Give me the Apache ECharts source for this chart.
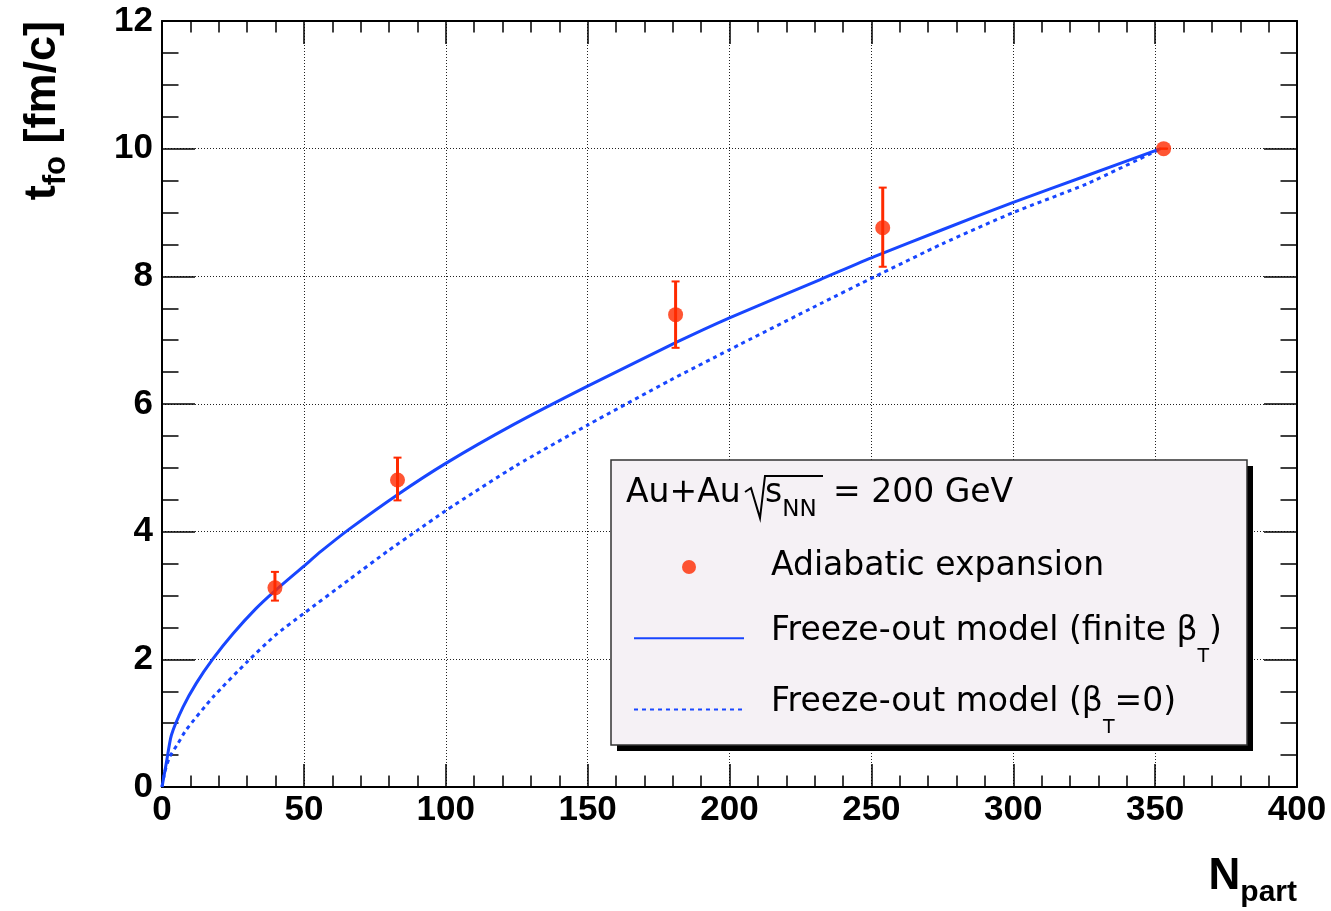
<!DOCTYPE html>
<html>
<head>
<meta charset="utf-8">
<script src="https://cdn.jsdelivr.net/npm/echarts@6/dist/echarts.min.js"></script>
<style>
html,body{margin:0;padding:0;background:#fff;}
#chart{width:1331px;height:911px;}
</style>
</head>
<body>
<div id="chart"></div>
<script>
// ---- data ----
const xTicks = [0, 50, 100, 150, 200, 250, 300, 350, 400];
const yTicks = [0, 2, 4, 6, 8, 10, 12];

// Freeze-out model (finite beta_T) — solid curve
const solidX = [0, 1.5, 3.3, 7.4, 12, 18, 25, 33, 40, 50, 56, 66, 83, 100, 124, 150, 181, 200, 232, 251, 275, 300, 326, 352];
const solidY = [0, 0.37, 0.81, 1.25, 1.62, 2.01, 2.40, 2.79, 3.08, 3.46, 3.69, 4.04, 4.58, 5.07, 5.68, 6.28, 6.96, 7.35, 7.95, 8.31, 8.73, 9.16, 9.58, 10.0];

// Freeze-out model (beta_T = 0) — dotted curve
const dotX = [0, 1, 2.7, 5.6, 8.6, 18, 30, 40, 50, 66, 80, 90, 100, 125, 150, 179, 200, 232, 251, 275, 300, 326, 352];
const dotY = [0, 0.24, 0.47, 0.68, 0.90, 1.41, 1.96, 2.38, 2.72, 3.25, 3.71, 4.02, 4.33, 5.04, 5.67, 6.37, 6.85, 7.57, 7.99, 8.51, 9.00, 9.45, 10.0];

// Adiabatic expansion — points with error bars
const ptsX = [39.8, 83, 181, 254, 353];
const ptsY = [3.12, 4.81, 7.40, 8.76, 10.0];
const errLow = [2.92, 4.49, 6.88, 8.15, 10.0];
const errHigh = [3.37, 5.16, 7.92, 9.39, 10.0];

const NAME_PTS = 'Adiabatic expansion';
const NAME_SOLID = 'Freeze-out model (finite βT)';
const NAME_DOT = 'Freeze-out model (βT=0)';

// ---- styling ----
const BLUE = '#1846ff';
const RED = '#ff2a00';
const LAB = 'Liberation Sans';
const LEG = 'DejaVu Sans';

const chart = echarts.init(document.getElementById('chart'), null, {renderer: 'canvas'});

function axisLineStyle() {
  return {show: true, onZero: false, lineStyle: {color: '#000', width: 2}};
}
function tickStyle(len) {
  return {show: true, inside: true, length: len, lineStyle: {color: '#000', width: 1.5}};
}
function minorStyle(n, len) {
  return {show: true, splitNumber: n, length: len, lineStyle: {color: '#000', width: 1.5}};
}

const legendRich = {
  p: {fontFamily: LEG, fontSize: 33, width: 22, height: 40, lineHeight: 56, verticalAlign: 'top', color: '#000'},
  c: {fontFamily: LEG, fontSize: 33, height: 54, lineHeight: 56, verticalAlign: 'top', color: '#000'},
  b: {fontFamily: LEG, fontSize: 33, height: 43, lineHeight: 56, verticalAlign: 'top', color: '#000'},
  s: {fontFamily: LEG, fontSize: 19, height: 18, lineHeight: 56, verticalAlign: 'bottom', color: '#000'}
};

const option = {
  animation: false,
  backgroundColor: '#fff',
  grid: {left: 162, top: 21, width: 1135, height: 766, containLabel: false, outerBoundsMode: 'none'},
  title: {
    left: 626, top: 473, padding: 0, z: 8,
    text: '{n|Au+Au}{g| }{n|s}{sub|NN}{n| = 200 GeV}',
    textStyle: {
      rich: {
        n: {fontFamily: LEG, fontWeight: 'normal', fontSize: 33, color: '#000', height: 40, lineHeight: 46, verticalAlign: 'top'},
        g: {fontFamily: LEG, fontWeight: 'normal', fontSize: 33, color: '#000', width: 24.4, height: 40, lineHeight: 46, verticalAlign: 'top'},
        sub: {fontFamily: LEG, fontWeight: 'normal', fontSize: 23, color: '#000', height: 18, lineHeight: 46, verticalAlign: 'bottom', padding: [0, 6, 0, 0]}
      }
    }
  },
  legend: {
    orient: 'vertical', left: 633, top: 539, padding: 0, z: 7,
    itemWidth: 110, itemHeight: 14, itemGap: 14.7,
    selectedMode: false,
    data: [
      {name: NAME_PTS, icon: 'circle'},
      {name: NAME_SOLID, itemStyle: {opacity: 0}},
      {name: NAME_DOT, itemStyle: {opacity: 0}}
    ],
    formatter: function (name) {
      if (name === NAME_PTS) return '{p| }{c|Adiabatic expansion}{s| }';
      if (name === NAME_SOLID) return '{p| }{b|Freeze-out model (finite β}{s|T}{b|)}';
      return '{p| }{b|Freeze-out model (β}{s|T}{b|=0)}';
    },
    textStyle: {color: '#000', fontFamily: LEG, fontSize: 33, rich: legendRich}
  },
  graphic: [
    {type: 'rect', z: 4, shape: {x: 617, y: 466, width: 636, height: 285}, style: {fill: '#000'}},
    {type: 'rect', z: 5, shape: {x: 611, y: 460, width: 636, height: 285}, style: {fill: '#f5f1f5', stroke: '#333', lineWidth: 1.5}},
    {type: 'polyline', z: 9, shape: {points: [[745, 492], [751, 488], [760, 518], [765, 476], [823, 476]]}, style: {stroke: '#000', lineWidth: 2, fill: null}}
  ],
  xAxis: [
    {
      type: 'value', position: 'bottom',
      min: xTicks[0], max: xTicks[xTicks.length - 1], interval: xTicks[1] - xTicks[0],
      axisLine: axisLineStyle(), axisTick: tickStyle(23), minorTick: minorStyle(5, 11.5),
      axisLabel: {show: true, fontFamily: LAB, fontWeight: 'bold', fontSize: 35, color: '#000', margin: 6},
      splitLine: {show: true, lineStyle: {color: '#222', width: 1, type: [1, 2]}},
      name: '{m|N}{s|part}', nameLocation: 'end', nameGap: 0, nameMoveOverlap: false,
      nameTextStyle: {
        align: 'right', verticalAlign: 'top', padding: [65, 0, 0, 0],
        rich: {
          m: {fontFamily: LAB, fontWeight: 'bold', fontSize: 44, color: '#000', height: 50, lineHeight: 50, verticalAlign: 'top'},
          s: {fontFamily: LAB, fontWeight: 'bold', fontSize: 30, color: '#000', height: 18, lineHeight: 50, verticalAlign: 'bottom'}
        }
      }
    },
    {
      type: 'value', position: 'top',
      min: xTicks[0], max: xTicks[xTicks.length - 1], interval: xTicks[1] - xTicks[0],
      axisLine: axisLineStyle(), axisTick: tickStyle(23), minorTick: minorStyle(5, 11.5),
      axisLabel: {show: false}, splitLine: {show: false}
    }
  ],
  yAxis: [
    {
      type: 'value', position: 'left',
      min: yTicks[0], max: yTicks[yTicks.length - 1], interval: yTicks[1] - yTicks[0],
      axisLine: axisLineStyle(), axisTick: tickStyle(33), minorTick: minorStyle(4, 16.5),
      axisLabel: {show: true, fontFamily: LAB, fontWeight: 'bold', fontSize: 35, color: '#000', margin: 9, padding: [7, 0, 0, 0]},
      splitLine: {show: true, lineStyle: {color: '#222', width: 1, type: [1, 2]}},
      name: '{m|t}{s|fo}{m| [fm/c]}', nameLocation: 'end', nameGap: 0, nameRotate: 90, nameMoveOverlap: false,
      nameTextStyle: {
        align: 'right', verticalAlign: 'bottom', padding: [0, 0, 94, 0],
        rich: {
          m: {fontFamily: LAB, fontWeight: 'bold', fontSize: 45, color: '#000', height: 50, lineHeight: 50, verticalAlign: 'top'},
          s: {fontFamily: LAB, fontWeight: 'bold', fontSize: 31, color: '#000', height: 24, lineHeight: 50, verticalAlign: 'bottom'}
        }
      }
    },
    {
      type: 'value', position: 'right',
      min: yTicks[0], max: yTicks[yTicks.length - 1], interval: yTicks[1] - yTicks[0],
      axisLine: axisLineStyle(), axisTick: tickStyle(33), minorTick: minorStyle(4, 16.5),
      axisLabel: {show: false}, splitLine: {show: false}
    }
  ],
  series: [
    {
      name: NAME_SOLID, type: 'line', xAxisIndex: 0, yAxisIndex: 0,
      data: solidX.map((x, i) => [x, solidY[i]]),
      symbol: 'none', showSymbol: false, smooth: 0.2,
      lineStyle: {color: BLUE, width: 3, type: 'solid'}, itemStyle: {color: BLUE}, z: 3
    },
    {
      name: NAME_DOT, type: 'line', xAxisIndex: 0, yAxisIndex: 0,
      data: dotX.map((x, i) => [x, dotY[i]]),
      symbol: 'none', showSymbol: false, smooth: 0.2,
      lineStyle: {color: BLUE, width: 3, type: [4, 4]}, itemStyle: {color: BLUE}, z: 3
    },
    {
      name: 'errors', type: 'custom', xAxisIndex: 0, yAxisIndex: 0,
      data: ptsX.map((x, i) => [x, ptsY[i], errLow[i], errHigh[i]]),
      encode: {x: 0, y: [1, 2, 3]},
      renderItem: function (params, api) {
        const x = api.value(0);
        const pLo = api.coord([x, api.value(2)]);
        const pHi = api.coord([x, api.value(3)]);
        const cw = 4;
        return {
          type: 'group',
          children: [
            {type: 'line', shape: {x1: pLo[0], y1: pLo[1], x2: pHi[0], y2: pHi[1]}, style: {stroke: RED, lineWidth: 3}},
            {type: 'line', shape: {x1: pHi[0] - cw, y1: pHi[1], x2: pHi[0] + cw, y2: pHi[1]}, style: {stroke: RED, lineWidth: 2}},
            {type: 'line', shape: {x1: pLo[0] - cw, y1: pLo[1], x2: pLo[0] + cw, y2: pLo[1]}, style: {stroke: RED, lineWidth: 2}}
          ]
        };
      },
      z: 4, silent: true
    },
    {
      name: NAME_PTS, type: 'scatter', xAxisIndex: 0, yAxisIndex: 0,
      data: ptsX.map((x, i) => [x, ptsY[i]]),
      symbol: 'circle', symbolSize: 15,
      itemStyle: {color: RED}, z: 5
    }
  ]
};
chart.setOption(option);
</script>
</body>
</html>
